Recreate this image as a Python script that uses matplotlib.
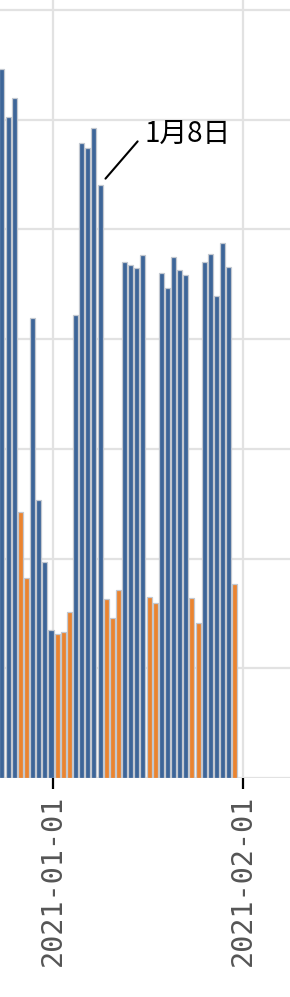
import numpy as np
import pandas as pd
import matplotlib
matplotlib.use("Agg")
import matplotlib.pyplot as plt
import matplotlib.dates as mdates

# daily counts, 2020-12-23 .. 2021-01-30
dates = pd.date_range("2020-12-23", "2021-01-30", freq="D")
values = [3232, 3013, 3099, 1212, 912, 2097, 1267, 985, 675,
          656, 665, 757, 2110, 2894, 2872, 2963, 2703, 816, 729, 857,
          2352, 2338, 2325, 2384, 825, 798,
          2302, 2233, 2375, 2315, 2293, 820, 706,
          2352, 2388, 2197, 2438, 2329, 884]
holidays = ["2021-01-01", "2021-01-11"]
note_date = "2021-01-08"
note_text = "1月8日"

BLUE = "#3d6598"
ORANGE = "#ea8430"
EDGE = "#c3c8d0"

off_day = [(d.weekday() >= 5) or (d.strftime("%Y-%m-%d") in holidays) for d in dates]
colors = [ORANGE if o else BLUE for o in off_day]

# bars sit a bit after midnight of their day
x = dates + pd.Timedelta(hours=18)

fig = plt.figure(figsize=(2.9, 9.97), dpi=100)
ax = fig.add_axes([0, 0.2197, 1, 0.7803])

ax.bar(x, values, width=0.82, color=colors, edgecolor=EDGE, linewidth=0.9, zorder=3)

x0 = mdates.date2num(pd.Timestamp("2021-01-01"))
ax.set_xlim(x0 - 8.57, x0 + 38.74)
ax.set_ylim(0, 3546)
ax.set_yticks(np.arange(0, 3501, 500))
ax.yaxis.set_tick_params(length=0, labelleft=False)

ax.xaxis.set_major_locator(mdates.MonthLocator())
ax.xaxis.set_major_formatter(mdates.DateFormatter("%Y-%m-%d"))
ax.tick_params(axis="x", length=8, width=1.6, color="black", pad=4,
               labelsize=20.5, labelcolor="#555555", rotation=90)
for lab in ax.get_xticklabels():
    lab.set_family("DejaVu Sans Mono")

ax.grid(True, color="#e2e2e2", linewidth=1.6, zorder=0)
ax.set_axisbelow(True)
for s in ax.spines.values():
    s.set_visible(False)

i = list(dates.strftime("%Y-%m-%d")).index(note_date)
ax.annotate(note_text, xy=(x[i], values[i]), xytext=(44, 51),
            textcoords="offset pixels", ha="left", va="center",
            fontsize=20, family=["Noto Sans CJK JP", "DejaVu Sans"],
            arrowprops=dict(arrowstyle="-", color="black", lw=1.5,
                            relpos=(0, 0.5), shrinkA=4, shrinkB=6))

fig.savefig("out.png", dpi=100)
